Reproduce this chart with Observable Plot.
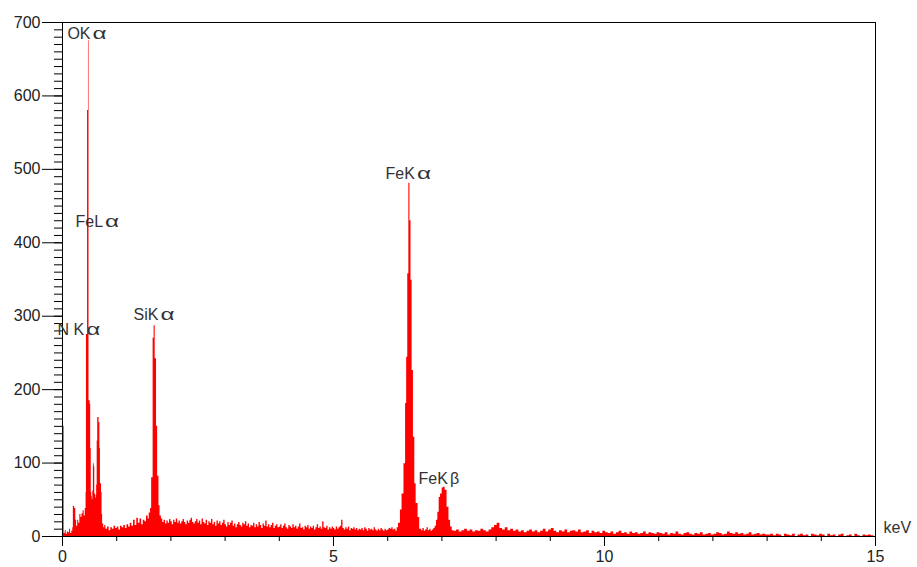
<!DOCTYPE html>
<html>
<head>
<meta charset="utf-8">
<script src="https://cdn.jsdelivr.net/npm/d3@7"></script>
<script src="https://cdn.jsdelivr.net/npm/@observablehq/plot@0.6"></script>
<style>
  html, body { margin: 0; padding: 0; background: #ffffff; }
  #chart { width: 917px; height: 567px; }
</style>
</head>
<body>
<div id="chart"></div>
<script>
// ---- Data (energy in keV, counts) ----

// Low-energy region: N Kα, O Kα, Fe Lα
const lowEnergyPeaks = [
  [0.00,150],[0.03,4],[0.05,8],[0.07,3],[0.09,6],[0.11,5],[0.13,10],[0.15,4],[0.17,7],[0.19,12],
  [0.20,41],[0.225,38],[0.245,22],[0.26,14],[0.28,22],[0.30,18],[0.32,30],[0.34,26],[0.36,31],[0.38,35],
  [0.40,28],[0.42,38],[0.435,60],[0.442,275],[0.462,580],[0.479,675],[0.489,185],[0.51,180],[0.52,120],[0.53,60],
  [0.54,54],[0.55,50],[0.56,62],[0.57,99],[0.585,95],[0.595,58],[0.61,52],[0.62,56],[0.63,70],[0.64,130],
  [0.65,162],[0.675,155],[0.69,120],[0.70,72],[0.72,60],[0.73,30],[0.74,17],[0.76,12],[0.78,15]
];

// Background and Si Kα peak
const siliconPeak = [
  [0.80,10],[0.83,13],[0.86,8],[0.89,12],[0.92,10],[0.95,14],[0.98,11],[1.01,13],[1.04,9],[1.07,14],
  [1.10,12],[1.13,15],[1.16,11],[1.19,16],[1.22,13],[1.25,18],[1.28,14],[1.31,22],[1.34,15],[1.37,25],
  [1.40,18],[1.43,24],[1.46,16],[1.49,22],[1.52,20],[1.55,28],[1.58,24],[1.60,32],[1.625,38],[1.645,80],
  [1.672,270],[1.69,287],[1.71,242],[1.735,150],[1.755,82],[1.78,42],[1.80,28]
];

// Background channels 1.825 – 6.100 keV (channel width 0.025 keV)
const midBackgroundStartKeV = 1.825;
const midBackgroundChannelKeV = 0.025;
const midBackgroundCounts = [
  24,19,22,17,21,18,23,20,16,22,19,24,18,21,17,20,23,19,16,21,18,22,25,19,17,20,23,
  18,21,16,24,19,17,22,15,20,18,23,16,19,14,21,17,20,15,18,22,
  16,13,19,15,18,21,14,17,12,16,19,15,13,18,16,20,14,17,12,15,
  14,18,12,16,13,19,15,11,17,14,21,13,16,12,15,18,11,14,16,12,
  13,16,11,14,17,12,10,15,13,11,16,12,14,10,13,17,11,12,9,14,
  12,15,10,13,11,14,9,12,16,11,13,10,20,12,11,14,9,12,10,13,
  11,9,13,10,12,14,22,11,9,12,10,13,8,11,10,12,9,11,8,10,
  9,11,8,12,10,7,11,9,10,8,12,9,7,10,8,11,9,7,10,8,9,11,10,12,9
];

// Fe Kα and Fe Kβ region
const ironPeaks = [
  [6.125,10],[6.15,7],[6.175,12],[6.20,18],[6.235,36],[6.265,58],[6.30,99],[6.33,181],[6.35,244],[6.37,358],
  [6.39,481],[6.41,430],[6.43,349],[6.45,226],[6.475,135],[6.50,72],[6.525,45],[6.56,26],[6.59,10],[6.625,8],
  [6.65,11],[6.675,7],[6.70,9],[6.725,12],[6.75,8],[6.775,10],[6.80,7],[6.825,9],[6.85,11],[6.875,14],
  [6.90,22],[6.925,33],[6.95,53],[6.975,58],[7.005,66],[7.03,67],[7.06,63],[7.095,40],[7.13,22],[7.16,13],[7.19,8]
];

// High-energy background channels 7.22 – 15 keV (channel width 0.05 keV)
const highBackgroundStartKeV = 7.22;
const highBackgroundChannelKeV = 0.05;
const highBackgroundCounts = [
  7,9,6,8,10,7,9,6,8,7,10,8,6,9,12,15,
  18,11,9,12,8,10,7,9,
  6,8,5,7,9,6,8,5,7,10,6,9,
  11,7,5,8,6,9,5,7,8,6,
  9,5,6,8,4,7,5,6,4,7,
  5,4,6,3,5,7,4,5,3,6,4,5,3,4,6,3,5,4,3,5,
  4,3,5,2,4,3,6,3,2,4,5,3,2,4,3,5,2,3,4,2,
  3,5,4,2,3,6,4,3,5,3,4,2,3,5,2,3,4,2,3,2,
  2,3,1,3,2,0,3,2,1,3,0,2,3,1,2,0,3,2,1,3,
  2,0,3,1,2,0,2,3,0,1,2,0,3,1,0,2,1,2,1,0
];

// Peak annotations
const peakNames = ["OKα", "FeLα", "N Kα", "SiKα", "FeKα", "FeKβ"];
const peakLabelKeV = [0.09, 0.24, -0.09, 1.31, 5.96, 6.57];
const peakLabelCounts = [684, 428, 282, 302, 494, 79];

// Axis ticks
const xMajorTicks = [0, 5, 10, 15];
const xMinorTicks = [0,1,2,3,4,5,6,7,8,9,10,11,12,13,14,15];
const yMajorTicks = [0, 100, 200, 300, 400, 500, 600, 700];
const yMinorTicks = d3.range(0, 701, 10);

// ---- Build table ----
const spectrum = [
  ...lowEnergyPeaks.map(([keV, counts]) => ({keV, counts})),
  ...siliconPeak.map(([keV, counts]) => ({keV, counts})),
  ...midBackgroundCounts.map((counts, i) => ({keV: midBackgroundStartKeV + i * midBackgroundChannelKeV, counts})),
  ...ironPeaks.map(([keV, counts]) => ({keV, counts})),
  ...highBackgroundCounts.map((counts, i) => ({keV: highBackgroundStartKeV + i * highBackgroundChannelKeV, counts}))
].sort((a, b) => a.keV - b.keV);

const labels = peakNames.map((name, i) => ({name, keV: peakLabelKeV[i], counts: peakLabelCounts[i]}));

const font = "'Liberation Sans', Arial, sans-serif";

const chart = Plot.plot({
  width: 917,
  height: 567,
  marginLeft: 62,
  marginRight: 42,
  marginTop: 22,
  marginBottom: 31,
  style: {fontFamily: font, fontSize: "16px", color: "#000", background: "#fff", overflow: "visible"},
  x: {domain: [0, 15], label: null},
  y: {domain: [0, 700], label: null},
  marks: [
    Plot.areaY(spectrum, {x: "keV", y: "counts", curve: "step-after", fill: "#ff0000", clip: true}),
    Plot.frame({stroke: "#000", strokeWidth: 1}),
    Plot.axisX({ticks: xMinorTicks, tickSize: 5, tickFormat: () => "", label: null}),
    Plot.axisX({ticks: xMajorTicks, tickSize: 10, tickPadding: 4, fontSize: 16, label: null, fill: "#222"}),
    Plot.axisY({ticks: yMinorTicks, tickSize: 8, tickFormat: () => "", label: null}),
    Plot.axisY({ticks: yMajorTicks, tickSize: 20, tickPadding: 2, fontSize: 16, label: null, fill: "#222"}),
    Plot.text(labels, {x: "keV", y: "counts", text: "name", textAnchor: "start", fontSize: 16, fill: "#333"}),
    Plot.text(["keV"], {x: () => 15, y: () => 12, text: d => d, dx: 8, textAnchor: "start", fontSize: 16, fill: "#333"})
  ]
});

// Widen the Greek letters of the peak labels like in the reference rendering
d3.select(chart).selectAll('g[aria-label="text"] text').each(function () {
  const t = this.textContent;
  const m = t.match(/^(.*?)([αβ])$/);
  if (!m) return;
  while (this.firstChild) this.removeChild(this.firstChild);
  this.appendChild(document.createTextNode(m[1]));
  const ts = document.createElementNS("http://www.w3.org/2000/svg", "tspan");
  ts.textContent = m[2];
  ts.setAttribute("dx", "2");
  if (m[2] === "α") {
    ts.setAttribute("textLength", "14");
    ts.setAttribute("lengthAdjust", "spacingAndGlyphs");
  }
  this.appendChild(ts);
});

document.getElementById("chart").appendChild(chart);
</script>
</body>
</html>
